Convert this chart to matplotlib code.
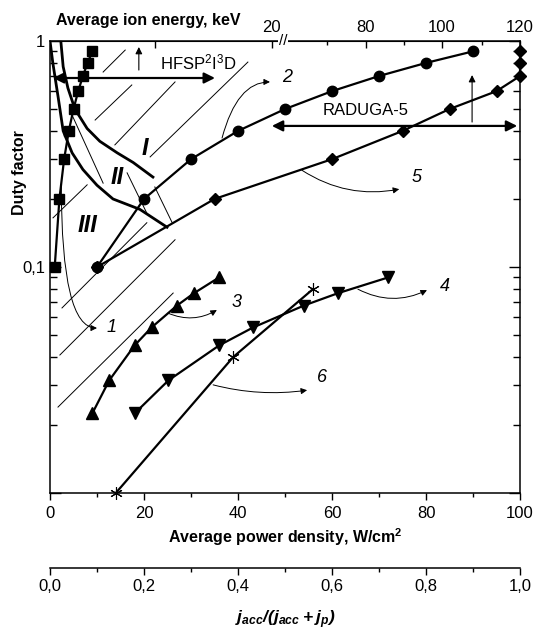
import numpy as np
import matplotlib.pyplot as plt
from matplotlib.ticker import NullFormatter

plt.rcParams['font.family'] = ['Liberation Sans', 'DejaVu Sans']
plt.rcParams['mathtext.default'] = 'regular'

## Data ##
# 1 - squares
p1 = [1, 2, 3, 4, 5, 6, 7, 8, 9]
d1 = [0.1, 0.2, 0.3, 0.4, 0.5, 0.6, 0.7, 0.8, 0.9]
# 2 - circles
p2 = [10, 20, 30, 40, 50, 60, 70, 80, 90]
d2 = [0.1, 0.2, 0.3, 0.4, 0.5, 0.6, 0.7, 0.8, 0.9]
# 3 - up triangles
p3 = [9, 12.6, 18, 21.6, 27, 30.6, 36]
d3 = [0.0225, 0.0315, 0.045, 0.054, 0.0675, 0.0765, 0.09]
# 4 - down triangles
p4 = [18, 25.2, 36, 43.2, 54, 61.2, 72]
d4 = [0.0225, 0.0315, 0.045, 0.054, 0.0675, 0.0765, 0.09]
# 5 - diamonds
p5 = [10, 35, 60, 75, 85, 95, 100, 100, 100]
d5 = [0.1, 0.2, 0.3, 0.4, 0.5, 0.6, 0.7, 0.8, 0.9]
# 6 - asterisks
p6 = [14, 39, 56]
d6 = [0.01, 0.04, 0.08]

# region boundaries
bI_p = [2.3, 2.8, 3.8, 5.3, 7.9, 10.6, 14.3, 17.7, 21.9]
bI_d = [1.0, 0.77, 0.62, 0.50, 0.41, 0.36, 0.32, 0.29, 0.25]
bII_p = [0, 0.6, 1.7, 2.8, 4.7, 7.0, 10, 13.4, 19.1, 24.9]
bII_d = [1.0, 0.80, 0.57, 0.40, 0.32, 0.27, 0.23, 0.20, 0.18, 0.15]

# top axis (ion energy), labels and where they sit on the power scale
energy_labels = ['', '20', '80', '100', '120']
energy_pos = [22.3, 47.2, 67.2, 83.4, 100]
energy_minor_pos = [58.9, 75.3, 91.9]

# second bottom axis
frac_ticks = [0.0, 0.2, 0.4, 0.6, 0.8, 1.0]
frac_labels = ['0,0', '0,2', '0,4', '0,6', '0,8', '1,0']

# hatching and thin guide lines (start, end)
hatch = [((11.3, 0.729), (16.0, 0.912)),
         ((9.6, 0.447), (17.4, 0.639)),
         ((13.8, 0.347), (26.6, 0.659)),
         ((21.3, 0.307), (42.1, 0.807)),
         ((0.64, 0.165), (7.9, 0.231)),
         ((2.55, 0.0659), (20.6, 0.157)),
         ((2.1, 0.0408), (26.6, 0.132)),
         ((1.7, 0.024), (26.2, 0.0767)),
         ((4.7, 0.47), (11.3, 0.235)),
         ((16.4, 0.261), (20.6, 0.173)),
         ((22.3, 0.226), (26.0, 0.157))]

## Plotting ##
fig = plt.figure(figsize=(5.36, 6.31), dpi=100)
ax = fig.add_axes([0.0933, 0.2187, 0.8769, 0.7163])
ax.set_yscale('log')
ax.set_xlim(0, 100)
ax.set_ylim(0.01, 1)

for (x0, y0), (x1, y1) in hatch:
    ax.plot([x0, x1], [y0, y1], color='black', lw=0.7)

ax.plot(bI_p, bI_d, color='black', lw=2)
ax.plot(bII_p, bII_d, color='black', lw=2)

kw = dict(color='black', lw=1.6, clip_on=False, zorder=4)
ax.plot(p1, d1, marker='s', ms=6.5, **kw)
ax.plot(p2, d2, marker='o', ms=7.5, **kw)
ax.plot(p3, d3, marker='^', ms=8, **kw)
ax.plot(p4, d4, marker='v', ms=8, **kw)
ax.plot(p5, d5, marker='D', ms=6.2, **kw)
ax.plot(p6, d6, color='black', lw=1.6, clip_on=False, zorder=4,
        marker=(6, 2, 0), ms=9, mew=0.8)

# region labels
for txt, x, y in [('I', 20.2, 0.336), ('II', 14.3, 0.248), ('III', 8.0, 0.152)]:
    ax.text(x, y, txt, fontsize=17, weight='bold', style='italic',
            ha='center', va='center')

# curve labels with curved pointers
pointers = [('1', (2.4, 0.23), (10.0, 0.0537), (13.0, 0.054), 'angle3,angleA=90,angleB=0'),
            ('2', (36.6, 0.372), (46.8, 0.659), (50.4, 0.693), 'angle3,angleA=75,angleB=0'),
            ('3', (25.1, 0.0625), (35.5, 0.0645), (39.8, 0.070), 'arc3,rad=0.25'),
            ('4', (65.5, 0.0798), (80.2, 0.079), (84.0, 0.0824), 'arc3,rad=0.25'),
            ('5', (53.6, 0.268), (74.3, 0.221), (78.1, 0.248), 'arc3,rad=0.2'),
            ('6', (34.7, 0.0301), (54.7, 0.0285), (57.9, 0.0325), 'arc3,rad=0.1')]
for txt, start, tip, lab, cs in pointers:
    ax.annotate('', xy=tip, xytext=start,
                arrowprops=dict(arrowstyle='-|>', connectionstyle=cs, lw=0.7,
                                color='black', mutation_scale=9, shrinkA=0, shrinkB=0))
    ax.text(lab[0], lab[1], txt, fontsize=13, style='italic', ha='center', va='center')

# installation ranges
big = dict(arrowstyle='<|-|>', lw=1.6, color='black', mutation_scale=16, shrinkA=0, shrinkB=0)
small = dict(arrowstyle='-|>', lw=0.8, color='black', mutation_scale=10, shrinkA=0, shrinkB=0)
ax.annotate('', xy=(0.64, 0.686), xytext=(35.1, 0.686), arrowprops=big)
ax.annotate('', xy=(18.9, 0.941), xytext=(18.9, 0.744), arrowprops=small)
ax.text(23.4, 0.80, 'HFSP$^2$I$^3$D', fontsize=12, ha='left', va='center')
ax.annotate('', xy=(47.2, 0.421), xytext=(99.4, 0.421), arrowprops=big)
ax.annotate('', xy=(89.8, 0.707), xytext=(89.8, 0.438), arrowprops=small)
ax.text(58.1, 0.495, 'RADUGA-5', fontsize=12, ha='left', va='center')

# axes styling
for s in ax.spines.values():
    s.set_linewidth(1.1)
ax.set_yticks([0.01, 0.1, 1], ['', '0,1', '1'])
ax.yaxis.set_minor_formatter(NullFormatter())
ax.tick_params(axis='y', which='both', direction='in', right=True, labelsize=12, width=1)
ax.tick_params(axis='y', which='major', length=8)
ax.tick_params(axis='y', which='minor', length=5)
ax.set_xticks([0, 20, 40, 60, 80, 100])
ax.set_xticks([10, 30, 50, 70, 90], minor=True)
ax.tick_params(axis='x', which='both', direction='out', labelsize=12, width=1, pad=4)
ax.tick_params(axis='x', which='major', length=5)
ax.tick_params(axis='x', which='minor', length=3)
ax.set_xlabel('Average power density, W/cm$^2$', fontsize=11.5, weight='bold', labelpad=4)
ax.set_ylabel('Duty factor', fontsize=11.5, weight='bold')
ax.yaxis.set_label_coords(-0.05, 0.71)

top = ax.secondary_xaxis('top')
top.set_xticks(energy_pos, energy_labels)
top.set_xticks(energy_minor_pos, minor=True)
top.tick_params(which='both', direction='in', labelsize=12, width=1, pad=4)
top.tick_params(which='major', length=5)
top.tick_params(which='minor', length=3)
ax.text(49.6, 1.0, '//', fontsize=11, ha='center', va='center',
        bbox=dict(fc='white', ec='none', pad=0.5), clip_on=False, zorder=6)
fig.text(56 / 536, 1 - 21 / 631, 'Average ion energy, keV', fontsize=11.5,
         weight='bold', ha='left', va='center')

bot = ax.secondary_xaxis(-0.166, functions=(lambda x: x / 100, lambda x: x * 100))
bot.set_xticks(frac_ticks, frac_labels)
bot.set_xticks([0.1, 0.3, 0.5, 0.7, 0.9], minor=True)
bot.spines['bottom'].set_linewidth(1.1)
bot.tick_params(which='both', direction='out', labelsize=12, width=1, pad=3)
bot.tick_params(which='major', length=5)
bot.tick_params(which='minor', length=3)
bot.set_xlabel('$j_{acc}/(j_{acc}+j_p)$', fontsize=12.5, weight='bold', style='italic', labelpad=10)

plt.savefig('out.png', dpi=100)
